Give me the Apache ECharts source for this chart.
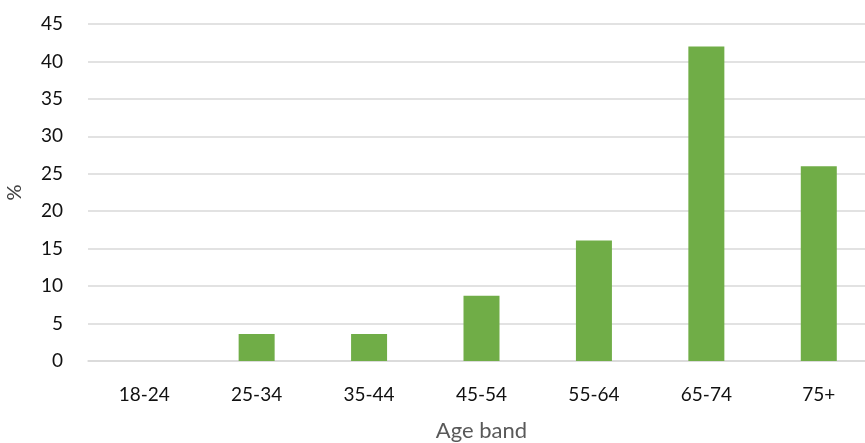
<!DOCTYPE html>
<html>
<head>
<meta charset="utf-8">
<script src="https://cdn.jsdelivr.net/npm/echarts@6/dist/echarts.min.js"></script>
<style>
  html, body { margin: 0; padding: 0; background: #ffffff; }
  #chart { width: 865px; height: 443px; }
</style>
</head>
<body>
<div id="chart"></div>
<script>
// Share of respondents by age band (%)
const ageBands = ['18-24', '25-34', '35-44', '45-54', '55-64', '65-74', '75+'];
const shares = [0, 3.6, 3.6, 8.7, 16.1, 42.0, 26.0];
const yTicks = { min: 0, max: 45, interval: 5 };

const chart = echarts.init(document.getElementById('chart'), null, { renderer: 'canvas' });
const font = 'Lato, "Open Sans", sans-serif';

chart.setOption({
  animation: false,
  grid: {
    left: 88, top: 24, width: 787, height: 337,
    containLabel: false,
    outerBoundsMode: 'none'
  },
  xAxis: {
    type: 'category',
    data: ageBands,
    name: 'Age band',
    nameLocation: 'middle',
    nameGap: 59,
    nameTextStyle: { fontFamily: font, fontSize: 22, color: '#595959' },
    axisLine: { show: true, lineStyle: { color: '#d9d9d9', width: 1.5 } },
    axisTick: { show: false },
    axisLabel: { fontFamily: font, fontSize: 19, color: '#111111', margin: 24 }
  },
  yAxis: {
    type: 'value',
    min: yTicks.min,
    max: yTicks.max,
    interval: yTicks.interval,
    name: '%',
    nameLocation: 'middle',
    nameGap: 63,
    nameRotate: 90,
    nameTextStyle: { fontFamily: font, fontSize: 20, color: '#404040' },
    axisLine: { show: false },
    axisTick: { show: false },
    splitLine: { lineStyle: { color: '#d9d9d9', width: 1.5 } },
    axisLabel: { fontFamily: font, fontSize: 19, color: '#111111', margin: 25 }
  },
  series: [{
    type: 'bar',
    data: shares,
    barWidth: 36,
    itemStyle: { color: '#70ad47' }
  }]
});
</script>
</body>
</html>
